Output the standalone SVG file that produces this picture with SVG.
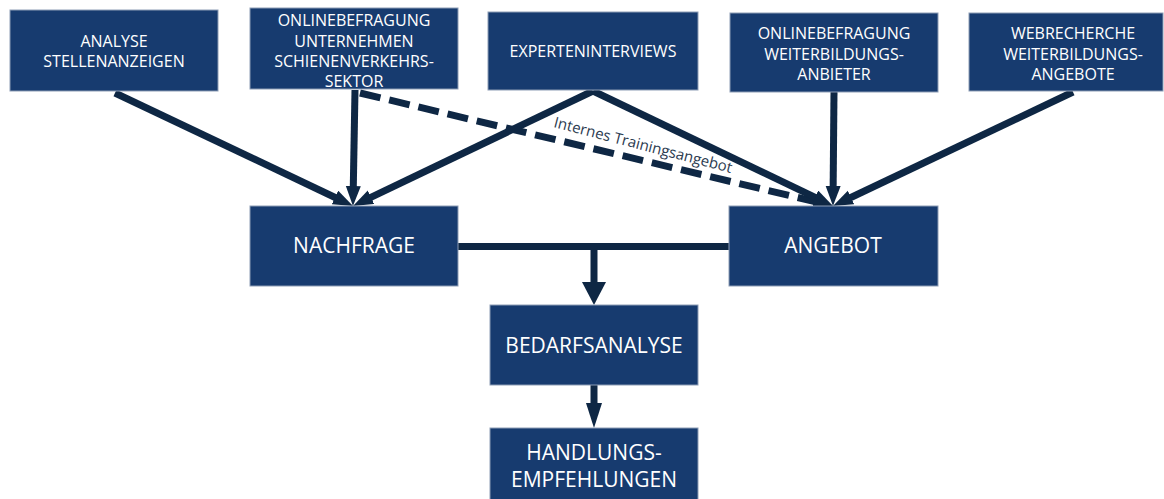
<svg xmlns="http://www.w3.org/2000/svg" width="1164" height="499" viewBox="0 0 1164 499">
<style>
.box{fill:#173b6f;stroke:#8d9db5;stroke-width:1}
.t{font-family:"Open Sans","Noto Sans",sans-serif;fill:#ffffff;text-anchor:middle}
.s{font-size:16px}
.l{font-size:21px}
.c{stroke:#0e2744;stroke-width:7;fill:none}
.d{stroke-dasharray:21 9}
.lab{font-family:"Open Sans","Noto Sans",sans-serif;font-size:15px;fill:#2c3b50}
</style>
<defs>
<marker id="ah" markerUnits="userSpaceOnUse" markerWidth="22" markerHeight="16" refX="6" refY="7.5" orient="auto"><path d="M0,0 L20,7.5 L0,15 z" fill="#0e2744"/></marker>
<marker id="ahw" markerUnits="userSpaceOnUse" markerWidth="24" markerHeight="24" refX="6" refY="12" orient="auto"><path d="M0,0 L23,12 L0,24 z" fill="#0e2744"/></marker>
<marker id="ahn" markerUnits="userSpaceOnUse" markerWidth="26" markerHeight="16" refX="12" refY="8" orient="auto"><path d="M0,0 L25,8 L0,16 z" fill="#0e2744"/></marker>
</defs>
<g id="connectors">
<line class="c" x1="115" y1="93" x2="340.4" y2="200" marker-end="url(#ah)"/>
<line class="c" x1="355" y1="90" x2="353.2" y2="192" marker-end="url(#ah)"/>
<line class="c" x1="593" y1="91" x2="365.6" y2="199.9" marker-end="url(#ah)"/>
<line class="c d" x1="360" y1="93" x2="819.4" y2="202.7" marker-end="url(#ah)"/>
<line class="c" x1="593" y1="91" x2="820.4" y2="199.9" marker-end="url(#ah)"/>
<line class="c" x1="834" y1="92" x2="833.1" y2="192" marker-end="url(#ah)"/>
<line class="c" x1="1073" y1="92" x2="845.6" y2="200" marker-end="url(#ah)"/>
<line class="c" x1="458" y1="246.5" x2="729" y2="246.5"/>
<line class="c" x1="594" y1="246" x2="594" y2="288" marker-end="url(#ahw)"/>
<line class="c" x1="594" y1="385" x2="594" y2="415" marker-end="url(#ahn)"/>
<text class="lab" transform="translate(553,127) rotate(14.5)">Internes Trainingsangebot</text>
</g>
<g id="n-analyse"><rect class="box" x="10" y="10" width="208" height="81"/><text class="t s" x="114" y="47">ANALYSE</text><text class="t s" x="114" y="67">STELLENANZEIGEN</text></g>
<g id="n-onlineunternehmen"><rect class="box" x="250" y="8" width="208" height="81"/><text class="t s" x="354" y="26">ONLINEBEFRAGUNG</text><text class="t s" x="354" y="47">UNTERNEHMEN</text><text class="t s" x="354" y="67">SCHIENENVERKEHRS-</text><text class="t s" x="354" y="87">SEKTOR</text></g>
<g id="n-experten"><rect class="box" x="488" y="12" width="210" height="78"/><text class="t s" x="593" y="57">EXPERTENINTERVIEWS</text></g>
<g id="n-onlineanbieter"><rect class="box" x="730" y="13" width="208" height="79"/><text class="t s" x="834" y="39">ONLINEBEFRAGUNG</text><text class="t s" x="834" y="60">WEITERBILDUNGS-</text><text class="t s" x="834" y="80">ANBIETER</text></g>
<g id="n-webrecherche"><rect class="box" x="969" y="13" width="194" height="78"/><text class="t s" x="1073" y="39">WEBRECHERCHE</text><text class="t s" x="1073" y="60">WEITERBILDUNGS-</text><text class="t s" x="1073" y="80">ANGEBOTE</text></g>
<g id="n-nachfrage"><rect class="box" x="250" y="206" width="208" height="80"/><text class="t l" x="354" y="253">NACHFRAGE</text></g>
<g id="n-angebot"><rect class="box" x="729" y="206" width="209" height="80"/><text class="t l" x="833" y="253">ANGEBOT</text></g>
<g id="n-bedarf"><rect class="box" x="490" y="305" width="208" height="80"/><text class="t l" x="594" y="353">BEDARFSANALYSE</text></g>
<g id="n-handlung"><rect class="box" x="490" y="428" width="208" height="80"/><text class="t l" x="594" y="460">HANDLUNGS-</text><text class="t l" x="594" y="487">EMPFEHLUNGEN</text></g>
</svg>
